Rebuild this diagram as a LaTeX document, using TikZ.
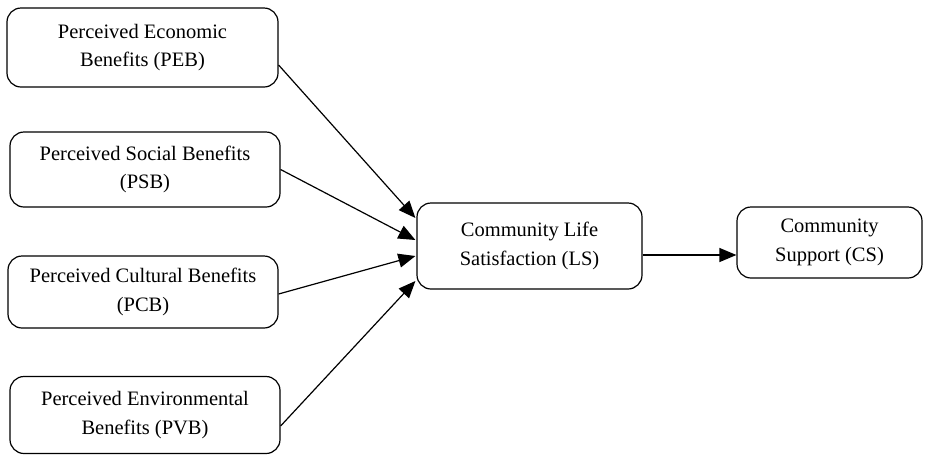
\documentclass[tikz,border=0pt]{standalone}
\usepackage{fontspec}
\setmainfont{Liberation Serif}
\usetikzlibrary{arrows.meta}

\begin{document}
\begin{tikzpicture}[x=1pt, y=-1pt,
    factor/.style={rectangle, draw, line width=1.2pt, rounded corners=14pt,
      align=center, inner sep=0pt, font=\fontsize{20.5}{28.5}\selectfont},
    link/.style={line width=1.2pt, -{Triangle[length=17pt, width=14pt]}}]
    \useasboundingbox (0,0) rectangle (939,456);

    \node[factor, minimum width=271pt, minimum height=79pt] (peb) at (142.5,47.5)
      {Perceived Economic\\Benefits (PEB)};
    \node[factor, minimum width=270pt, minimum height=75pt] (psb) at (145,169.5)
      {Perceived Social Benefits\\(PSB)};
    \node[factor, minimum width=270pt, minimum height=72pt] (pcb) at (143,292)
      {Perceived Cultural Benefits\\(PCB)};
    \node[factor, minimum width=270pt, minimum height=77pt] (pvb) at (145,415)
      {Perceived Environmental\\Benefits (PVB)};
    \node[factor, minimum width=225pt, minimum height=86pt] (ls) at (529.5,246)
      {Community Life\\Satisfaction (LS)};
    \node[factor, minimum width=185pt, minimum height=71pt] (cs) at (829.5,242.5)
      {Community\\Support (CS)};

    \draw[link] ([yshift=-17.5pt]peb.east) -- ([xshift=-1pt, yshift=28pt]ls.west);
    \draw[link] (psb.east) -- ([xshift=-1pt, yshift=6pt]ls.west);
    \draw[link] ([yshift=-2pt]pcb.east) -- ([xshift=-1pt, yshift=-10pt]ls.west);
    \draw[link] ([yshift=-11pt]pvb.east) -- ([xshift=-1pt, yshift=-35pt]ls.west);
    \draw[link] ([yshift=-9pt]ls.east) -- ([yshift=-12.5pt]cs.west);
  \end{tikzpicture}
\end{document}
